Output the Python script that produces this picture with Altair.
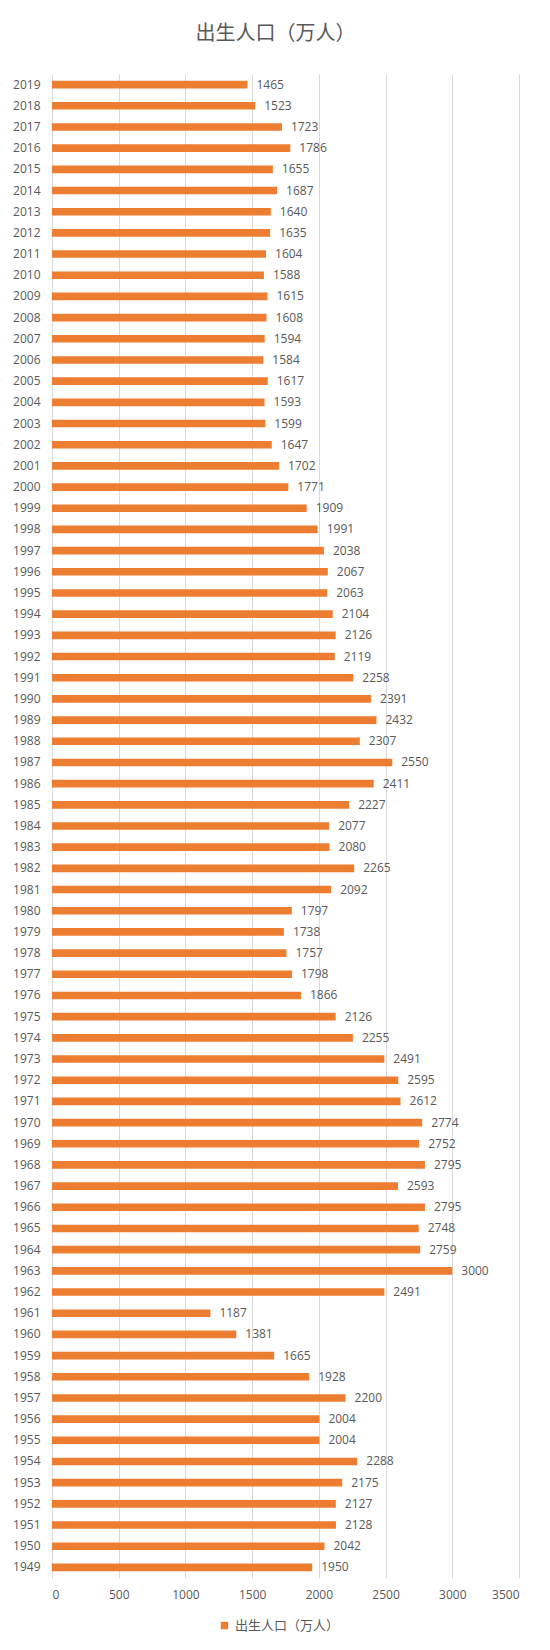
import pandas as pd
import altair as alt


# ── Data ──────────────────────────────────────────────────────────────────────

YEARS = list(range(2019, 1948, -1))

BIRTHS = [
    1465, 1523, 1723, 1786, 1655, 1687, 1640, 1635, 1604, 1588,   # 2019-2010
    1615, 1608, 1594, 1584, 1617, 1593, 1599, 1647, 1702, 1771,   # 2009-2000
    1909, 1991, 2038, 2067, 2063, 2104, 2126, 2119, 2258, 2391,   # 1999-1990
    2432, 2307, 2550, 2411, 2227, 2077, 2080, 2265, 2092, 1797,   # 1989-1980
    1738, 1757, 1798, 1866, 2126, 2255, 2491, 2595, 2612, 2774,   # 1979-1970
    2752, 2795, 2593, 2795, 2748, 2759, 3000, 2491, 1187, 1381,   # 1969-1960
    1665, 1928, 2200, 2004, 2004, 2288, 2175, 2127, 2128, 2042,   # 1959-1950
    1950,                                                          # 1949
]

SERIES = '出生人口（万人）'
X_TICKS = [0, 500, 1000, 1500, 2000, 2500, 3000, 3500]

ORANGE = '#ED7D31'
GREY_TEXT = '#595959'
GRID = '#D9D9D9'

df = pd.DataFrame({'year': [str(y) for y in YEARS], 'births': BIRTHS})
df['series'] = SERIES


# ── Chart ──────────────────────────────────────────────────────────────────────

base = alt.Chart(df)
year_order = [str(y) for y in YEARS]

y = alt.Y(
    'year:N',
    sort=year_order,
    title=None,
    scale=alt.Scale(paddingInner=0.64),
    axis=alt.Axis(
        domain=False, ticks=False, grid=False,
        labelFont='Open Sans', labelFontSize=12, labelColor=GREY_TEXT,
        labelPadding=12,
    ),
)
x = alt.X(
    'births:Q',
    title=None,
    scale=alt.Scale(domain=[0, 3500], nice=False),
    axis=alt.Axis(
        values=X_TICKS, format='d', domain=False, ticks=False,
        grid=True, gridColor=GRID, gridWidth=1,
        labelFont='Open Sans', labelFontSize=12, labelColor=GREY_TEXT,
        labelPadding=11,
    ),
)

bars = base.mark_bar().encode(
    x=x,
    y=y,
    color=alt.Color(
        'series:N',
        scale=alt.Scale(domain=[SERIES], range=[ORANGE]),
        legend=alt.Legend(
            title=None, orient='none', legendX=166, legendY=1545,
            symbolType='square', symbolSize=55, symbolStrokeWidth=0,
            labelFont='Noto Sans CJK SC', labelFontSize=13,
            labelColor=GREY_TEXT, labelOffset=4,
        ),
    ),
)

labels = base.mark_text(
    align='left', baseline='middle', dx=9,
    font='Open Sans', fontSize=12, color=GREY_TEXT,
).encode(
    x='births:Q',
    y=alt.Y('year:N', sort=year_order),
    text='births:Q',
)

chart = (
    alt.layer(bars, labels)
    .properties(
        width=467,
        height=1504,
        background='white',
        autosize=alt.AutoSizeParams(type='none'),
        padding={'left': 44, 'top': 66, 'right': 23, 'bottom': 64},
        title=alt.TitleParams(
            text='出生人口（万人）', font='Noto Sans CJK SC', fontSize=20,
            fontWeight='normal', color=GREY_TEXT, anchor='middle',
            offset=30, dx=-10,
        ),
    )
    .configure_view(strokeWidth=0)
)

chart.save('out.html', embed_options={'renderer': 'svg', 'actions': False})
